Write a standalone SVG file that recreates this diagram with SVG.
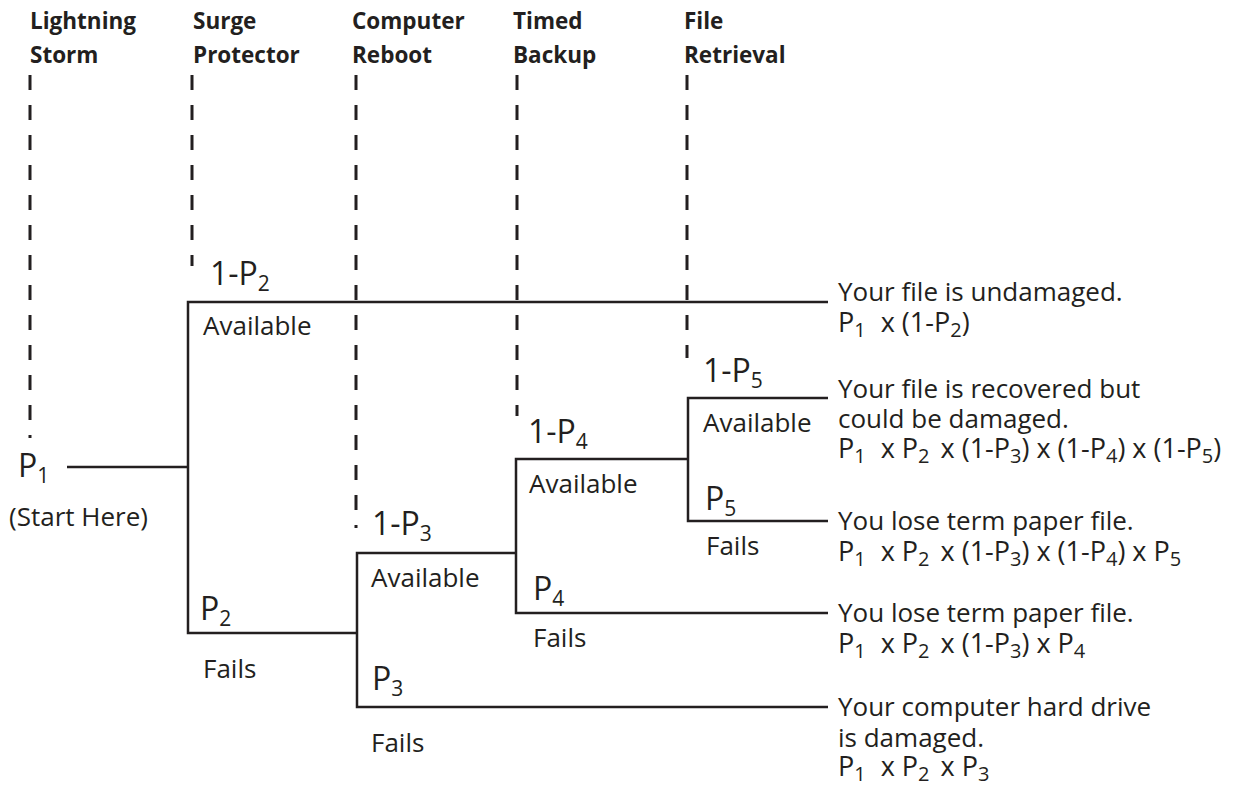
<svg xmlns="http://www.w3.org/2000/svg" width="1235" height="787" viewBox="0 0 1235 787">
<style>
text{fill:#231f20;font-family:"Open Sans","Noto Sans",sans-serif}
.h{font-size:22.5px;font-weight:bold}
.t{font-size:26px}
.f{font-size:27px}
.p{font-size:32px}
.s{font-size:21px}
.fs{font-size:20px}
.dash{stroke:#231f20;stroke-width:3;stroke-dasharray:15 15;fill:none}
.ln{stroke:#231f20;stroke-width:2.5;fill:none;stroke-linejoin:miter}
</style>
<rect width="1235" height="787" fill="#fff"/>
<g id="guides">
<path class="dash" d="M30 75V438M192 75V266M356 75V528M517 75V416M687 75V358"/>
</g>
<g id="connectors">
<path class="ln" d="M67 467H188"/>
<path class="ln" d="M828 302H188V633H357"/>
<path class="ln" d="M516 553H357V707H828"/>
<path class="ln" d="M688 459H516V613H828"/>
<path class="ln" d="M828 398H688V521H828"/>
</g>
<g id="h-lightning"><text class="h" x="30" y="29">Lightning</text><text class="h" x="30" y="63">Storm</text></g>
<g id="h-surge"><text class="h" x="193" y="29">Surge</text><text class="h" x="193" y="63">Protector</text></g>
<g id="h-reboot"><text class="h" x="352" y="29">Computer</text><text class="h" x="352" y="63">Reboot</text></g>
<g id="h-backup"><text class="h" x="513" y="29">Timed</text><text class="h" x="513" y="63">Backup</text></g>
<g id="h-retrieval"><text class="h" x="684" y="29">File</text><text class="h" x="684" y="63">Retrieval</text></g>
<g id="start"><text class="p" x="18" y="477">P<tspan class="s" dy="6">1</tspan></text><text class="t" x="9" y="526">(Start Here)</text></g>
<g id="surge-avail"><text class="p" x="210" y="285">1-P<tspan class="s" dy="6">2</tspan></text><text class="t" x="203" y="335">Available</text></g>
<g id="surge-fail"><text class="p" x="200" y="620">P<tspan class="s" dy="6">2</tspan></text><text class="t" x="203" y="678">Fails</text></g>
<g id="reboot-avail"><text class="p" x="372" y="535">1-P<tspan class="s" dy="6">3</tspan></text><text class="t" x="371" y="587">Available</text></g>
<g id="reboot-fail"><text class="p" x="372" y="690">P<tspan class="s" dy="6">3</tspan></text><text class="t" x="371" y="752">Fails</text></g>
<g id="backup-avail"><text class="p" x="528" y="443">1-P<tspan class="s" dy="6">4</tspan></text><text class="t" x="529" y="493">Available</text></g>
<g id="backup-fail"><text class="p" x="533" y="600">P<tspan class="s" dy="6">4</tspan></text><text class="t" x="533" y="647">Fails</text></g>
<g id="retrieval-avail"><text class="p" x="703" y="382">1-P<tspan class="s" dy="6">5</tspan></text><text class="t" x="703" y="432">Available</text></g>
<g id="retrieval-fail"><text class="p" x="705" y="510">P<tspan class="s" dy="6">5</tspan></text><text class="t" x="706" y="555">Fails</text></g>
<g id="out-undamaged">
<text class="t" x="838" y="301">Your file is undamaged.</text>
<text class="f" x="838" y="332">P<tspan class="fs" dy="5">1</tspan><tspan dy="-5" dx="8"> x (1-P</tspan><tspan class="fs" dy="5">2</tspan><tspan dy="-5">)</tspan></text>
</g>
<g id="out-recovered">
<text class="t" x="838" y="398">Your file is recovered but</text>
<text class="t" x="838" y="428">could be damaged.</text>
<text class="f" x="838" y="458">P<tspan class="fs" dy="5">1</tspan><tspan dy="-5" dx="8"> x P</tspan><tspan class="fs" dy="5">2</tspan><tspan dy="-5" dx="4"> x (1-P</tspan><tspan class="fs" dy="5">3</tspan><tspan dy="-5">) x (1-P</tspan><tspan class="fs" dy="5">4</tspan><tspan dy="-5">) x (1-P</tspan><tspan class="fs" dy="5">5</tspan><tspan dy="-5">)</tspan></text>
</g>
<g id="out-lose1">
<text class="t" x="838" y="530">You lose term paper file.</text>
<text class="f" x="838" y="561">P<tspan class="fs" dy="5">1</tspan><tspan dy="-5" dx="8"> x P</tspan><tspan class="fs" dy="5">2</tspan><tspan dy="-5" dx="4"> x (1-P</tspan><tspan class="fs" dy="5">3</tspan><tspan dy="-5">) x (1-P</tspan><tspan class="fs" dy="5">4</tspan><tspan dy="-5">) x P</tspan><tspan class="fs" dy="5">5</tspan></text>
</g>
<g id="out-lose2">
<text class="t" x="838" y="622">You lose term paper file.</text>
<text class="f" x="838" y="653">P<tspan class="fs" dy="5">1</tspan><tspan dy="-5" dx="8"> x P</tspan><tspan class="fs" dy="5">2</tspan><tspan dy="-5" dx="4"> x (1-P</tspan><tspan class="fs" dy="5">3</tspan><tspan dy="-5">) x P</tspan><tspan class="fs" dy="5">4</tspan></text>
</g>
<g id="out-harddrive">
<text class="t" x="838" y="716">Your computer hard drive</text>
<text class="t" x="838" y="747">is damaged.</text>
<text class="f" x="838" y="776">P<tspan class="fs" dy="5">1</tspan><tspan dy="-5" dx="8"> x P</tspan><tspan class="fs" dy="5">2</tspan><tspan dy="-5" dx="4"> x P</tspan><tspan class="fs" dy="5">3</tspan></text>
</g>
</svg>
